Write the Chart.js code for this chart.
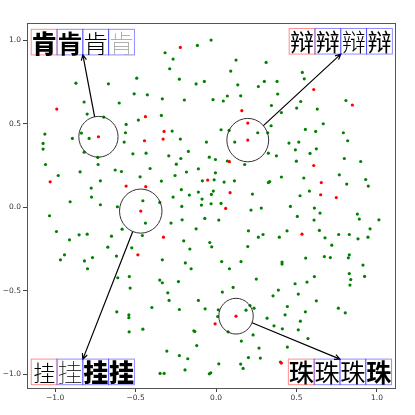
<!DOCTYPE html>
<html>
<head>
<meta charset="utf-8">
<script src="https://cdn.jsdelivr.net/npm/chart.js@4"></script>
<style>
body { margin: 0; background: #fff; }
</style>
</head>
<body>
<canvas id="c" width="415" height="415"></canvas>
<script>
var greenX = [
    -0.031, -0.116, -0.317, -0.267, -0.288, -0.493, -0.228, -0.124, -0.073, -0.871, -0.669, -0.509, -0.427, -0.334, -0.197, -0.019, -0.820, -0.602,
    -0.801, -0.698, -0.340, -0.483, -0.559, -1.064, -0.837, -0.789, -0.893, -0.563, -0.273, -0.222, -0.571, -1.075, -1.075, -0.060, -0.820, -0.735,
    -0.517, -0.435, -0.172, -0.294, -0.219, -0.042, -1.060, -0.733, -0.247, -0.004, -0.410, -0.110, -0.627, -0.588, -0.845, -0.184, -0.004, -0.981,
    -0.472, -0.255, -0.719, -0.340, -0.085, -0.012, -0.776, -0.216, -0.110, -0.166, -0.029, -0.774, -0.267, -0.087, -0.907, -0.455, -0.350, -0.719,
    -0.613, -0.213, -0.091, -0.031, -1.035, -0.070, 0.017, -0.439, -0.211, -0.280, -0.584, -0.992, -0.124, -0.458, -0.851, -0.801, -0.650, -0.911,
    -0.201, -0.039, -0.673, -0.524, -0.163, -0.027,
    -0.942, -0.967, -0.768, -0.619, -0.818, -0.799, -0.334, -0.191, -0.155, -0.539, -0.611, -0.350, -0.334, -0.234, -0.534, -0.300, -0.292, -0.110,
    -0.399, -0.228, -0.068, -0.617, -0.542, -0.542, 0.014, 0.010, -0.455, -0.540, -0.138, -0.132, -0.120, -0.306, -0.228, -0.176, -0.193,
    -0.348, -0.323, -0.042, -0.033, 0.017, 0.153, 0.168, 0.400,
    0.035, 0.155, 0.083, 0.410, 0.410, 0.557, 0.673, 0.710, 0.828, 0.822, 0.913, 0.828, 0.923, 0.837, 0.832, 0.250, 0.611, 0.565, 0.491, 0.106,
    0.039, 0.387, 0.354, 0.511, 0.623, 0.186, 0.211, 0.236, 0.075, 0.443, 0.555, 0.760, 0.803, 0.429, 0.317, 0.524, 0.360, 0.412, 0.511, 0.230,
    0.571, 0.157, 0.267, 0.443, 0.201, 0.275,
    0.045, 0.344, 0.406, 0.501, 0.629, 0.807, 0.666, 0.342, 0.031, 0.081, 0.259, 0.321, 0.555, 0.619, 0.791, 0.116, 0.453, 0.514, 0.818, 0.623,
    0.493, 0.584, 0.325, 0.375, 0.070, 0.178, 0.499, 0.797, 0.899, 0.050, 0.114, 0.325, 0.333, 0.406, 0.545, 0.766, 0.812, 0.930, 0.946, -0.017,
    0.226, 0.580, 0.522, 0.031, 0.217, 0.281, 0.462, 0.611, 0.646, 0.505, 0.878, 0.890, 1.012, 0.609, 0.957, 0.201, 0.441, 0.642, 0.292, 0.263,
    0.393, 0.677, 0.762, 0.828, 0.882, 0.944, 0.197, 0.719,
    0.124, 0.311, 0.091, 0.536, 0.548, 0.135, 0.263, 0.300, 0.379, 0.383, 0.070, 0.153, 0.526
];
var greenY = [
    1.000, 0.968, 0.924, 0.886, 0.828, 0.772, 0.766, 0.737, 0.752, 0.742, 0.738, 0.678, 0.672, 0.648, 0.641, 0.643, 0.629, 0.623,
    0.557, 0.539, 0.549, 0.521, 0.495, 0.437, 0.443, 0.411, 0.411, 0.445, 0.455, 0.407, 0.389, 0.381, 0.347, 0.389, 0.329, 0.297,
    0.319, 0.323, 0.333, 0.307, 0.291, 0.299, 0.255, 0.255, 0.257, 0.285, 0.231, 0.229, 0.222, 0.213, 0.211, 0.210, 0.205, 0.189,
    0.181, 0.189, 0.157, 0.156, 0.157, 0.163, 0.114, 0.104, 0.090, 0.072, 0.076, 0.060, 0.060, 0.048, 0.032, 0.038, 0.028, 0.014,
    0.002, 0.004, 0.012, 0.020, -0.052, -0.068, -0.078, -0.096, -0.076, -0.096, -0.132, -0.146, -0.130, -0.170, -0.166, -0.162, -0.174, -0.196,
    -0.202, -0.212, -0.240, -0.244, -0.251, -0.238,
    -0.286, -0.316, -0.302, -0.293, -0.322, -0.369, -0.316, -0.334, -0.369, -0.416, -0.423, -0.437, -0.453, -0.446, -0.485, -0.513, -0.559, -0.559,
    -0.601, -0.613, -0.609, -0.627, -0.645, -0.662, -0.615, -0.655, -0.731, -0.747, -0.741, -0.745, -0.829, -0.862, -0.889, -0.908, -0.975,
    -0.996, -0.996, -0.998, -0.992, -0.938, -0.940, -0.966, -0.928,
    -0.326, -0.326, -0.369, -0.329, -0.341, -0.305, -0.296, -0.302, -0.286, -0.304, -0.347, -0.398, -0.415, -0.434, -0.467, -0.431, -0.416, -0.449, -0.459, -0.481,
    -0.509, -0.497, -0.531, -0.521, -0.561, -0.617, -0.589, -0.605, -0.747, -0.595, -0.627, -0.605, -0.633, -0.645, -0.665, -0.683, -0.711, -0.729, -0.735, -0.765,
    -0.787, -0.802, -0.844, -0.838, -0.901, -0.904,
    0.635, 0.608, 0.566, 0.593, 0.587, 0.638, 0.499, 0.487, 0.463, 0.459, 0.445, 0.445, 0.465, 0.453, 0.445, 0.389, 0.383, 0.389, 0.397, 0.349,
    0.343, 0.321, 0.323, 0.307, 0.276, 0.255, 0.275, 0.291, 0.273, 0.150, 0.157, 0.147, 0.153, 0.180, 0.174, 0.193, 0.138, 0.165, 0.126, 0.096,
    0.078, 0.096, 0.068, 0.022, -0.018, -0.006, 0.004, -0.006, -0.036, -0.056, -0.042, -0.072, -0.076, -0.078, -0.130, -0.142, -0.142, -0.140, -0.164, -0.180,
    -0.180, -0.184, -0.164, -0.164, -0.190, -0.180, -0.236, -0.228,
    0.880, 0.866, 0.814, 0.806, 0.768, 0.732, 0.722, 0.752, 0.752, 0.677, 0.665, 0.666, 0.632
];
var redX = [-0.222, -0.990, -0.439, -0.731, -0.323, -0.445, -0.329, -1.031, -0.052, -0.559, -0.437, -0.468, -0.327, -0.486, -0.006,
    0.406, 0.124, 0.160, 0.847, 0.197, 0.197, 0.083, 0.607, 0.654, 0.087, 0.650, 0.747, 0.060, 0.534, 0.607];
var redY = [0.956, 0.587, 0.541, 0.421, 0.453, 0.397, 0.407, 0.151, 0.162, 0.126, 0.122, -0.024, -0.180, -0.286, -0.699,
    -0.934, -0.653, 0.577, 0.611, 0.503, 0.401, 0.272, 0.249, 0.147, 0.086, 0.074, 0.057, -0.008, -0.162, 0.704];

var xTicks = [-1.0, -0.5, 0.0, 0.5, 1.0];
var yTicks = [-1.0, -0.5, 0.0, 0.5, 1.0];

// circled spots and the glyph boxes they point to
var ringX = [-0.731, -0.468, 0.197, 0.124];
var ringY = [0.421, -0.024, 0.401, -0.653];
var ringR = [0.122, 0.132, 0.13, 0.107];
var tagX = [-0.828, -0.828, 0.775, 0.770];
var tagY = [0.911, -0.910, 0.916, -0.910];
var tagChar = ['肯', '挂', '辩', '珠'];
var tagFonts = [
    ['900 25px "Noto Sans CJK SC"', '700 25px "Noto Sans CJK JP"', '300 25px "Noto Sans CJK SC"', '100 25px "Noto Sans CJK SC"'],
    ['300 22px "Noto Sans CJK TC"', '100 25px "Noto Sans CJK SC"', '900 25px "Noto Sans CJK SC"', '900 25px "Noto Sans CJK JP"'],
    ['400 24px "Noto Sans CJK SC"', '400 24px "Noto Sans CJK TC"', '300 24px "Noto Sans CJK JP"', '400 24px "Noto Sans CJK KR"'],
    ['500 25px "Noto Sans CJK SC"', '400 25px "Noto Sans CJK TC"', '400 25px "Noto Sans CJK JP"', '700 25px "Noto Sans CJK KR"']
];
var tagColors = [
    ['#000', '#000', '#000', '#999'],
    ['#000', '#000', '#000', '#000'],
    ['#000', '#000', '#000', '#000'],
    ['#000', '#000', '#000', '#000']
];

function pts(xs, ys) {
    return xs.map(function(v, i) { return {x: v, y: ys[i]}; });
}

function fmt(v) {
    return v.toFixed(1).replace('-', '\u2212');
}

var notes = {
    id: 'notes',
    afterDraw: function(chart) {
        var c = chart.ctx, xs = chart.scales.x, ys = chart.scales.y, a = chart.chartArea;
        c.save();
        c.strokeStyle = '#555';
        c.lineWidth = 1;
        c.strokeRect(Math.round(a.left) + 0.5, Math.round(a.top) + 0.5, Math.round(a.right - a.left), Math.round(a.bottom - a.top));
        for (var i = 0; i < ringX.length; i++) {
            var cx = xs.getPixelForValue(ringX[i]), cy = ys.getPixelForValue(ringY[i]);
            var rx = Math.abs(xs.getPixelForValue(ringX[i] + ringR[i]) - cx);
            var ry = Math.abs(ys.getPixelForValue(ringY[i] + ringR[i]) - cy);
            c.strokeStyle = '#333';
            c.lineWidth = 1;
            c.beginPath();
            c.ellipse(cx, cy, rx, ry, 0, 0, 2 * Math.PI);
            c.stroke();

            var tx = xs.getPixelForValue(tagX[i]), ty = ys.getPixelForValue(tagY[i]);
            var dx = tx - cx, dy = ty - cy, len = Math.hypot(dx, dy);
            var ux = dx / len, uy = dy / len;
            var re = 1 / Math.sqrt((ux / rx) * (ux / rx) + (uy / ry) * (uy / ry));
            var ang = Math.atan2(dy, dx), hl = 6;
            c.strokeStyle = '#000';
            c.lineWidth = 1.2;
            c.beginPath();
            c.moveTo(cx + ux * re, cy + uy * re);
            c.lineTo(tx, ty);
            c.moveTo(tx - hl * Math.cos(ang - 0.45), ty - hl * Math.sin(ang - 0.45));
            c.lineTo(tx, ty);
            c.lineTo(tx - hl * Math.cos(ang + 0.45), ty - hl * Math.sin(ang + 0.45));
            c.stroke();

            var bw = 25.8, bh = 25.6;
            var left = tx - 2 * bw;
            var top = ty > cy ? ty : ty - bh;
            for (var k = 0; k < 4; k++) {
                var bx = left + k * bw;
                c.strokeStyle = k == 0 ? 'rgba(255,0,0,0.45)' : 'rgba(0,0,255,0.45)';
                c.lineWidth = 1;
                c.strokeRect(bx, top, bw, bh);
                c.font = tagFonts[i][k];
                c.fillStyle = tagColors[i][k];
                c.textAlign = 'center';
                c.textBaseline = 'middle';
                c.fillText(tagChar[i], bx + bw / 2, top + bh / 2 + 1);
            }
        }
        c.restore();
    }
};

var tickFont = {family: 'DejaVu Sans', size: 7.5};

var ctx = document.getElementById('c').getContext('2d');
var myChart = new Chart(ctx, {
    type: 'scatter',
    data: {
        datasets: [{
            data: pts(redX, redY),
            backgroundColor: '#ff0000',
            borderWidth: 0,
            pointRadius: 1.6,
            order: 0
        }, {
            data: pts(greenX, greenY),
            backgroundColor: '#008000',
            borderWidth: 0,
            pointRadius: 1.6,
            order: 1
        }]
    },
    options: {
        responsive: false,
        animation: false,
        events: [],
        layout: {padding: {left: 0, top: 23, right: 20, bottom: 0}},
        plugins: {legend: {display: false}, tooltip: {enabled: false}},
        scales: {
            x: {
                type: 'linear',
                min: -1.175,
                max: 1.112,
                afterFit: function(s) { s.height = 27; },
                afterBuildTicks: function(s) { s.ticks = xTicks.map(function(v) { return {value: v}; }); },
                ticks: {callback: fmt, font: tickFont, color: '#333', padding: 2, maxRotation: 0, autoSkip: false},
                grid: {drawOnChartArea: false, drawTicks: true, tickLength: 4, color: '#444'},
                border: {color: '#555', width: 1}
            },
            y: {
                type: 'linear',
                min: -1.083,
                max: 1.102,
                afterFit: function(s) { s.width = 27; },
                afterBuildTicks: function(s) { s.ticks = yTicks.map(function(v) { return {value: v}; }); },
                ticks: {callback: fmt, font: tickFont, color: '#333', padding: 2, autoSkip: false},
                grid: {drawOnChartArea: false, drawTicks: true, tickLength: 4, color: '#444'},
                border: {color: '#555', width: 1}
            }
        }
    },
    plugins: [notes]
});
</script>
</body>
</html>
